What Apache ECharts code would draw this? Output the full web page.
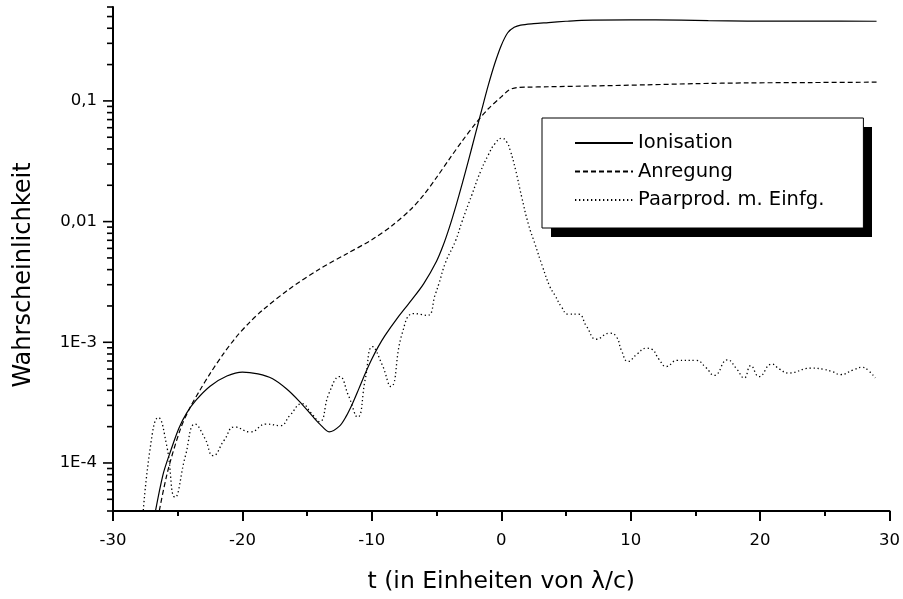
<!DOCTYPE html>
<html><head><meta charset="utf-8">
<script src="https://cdn.jsdelivr.net/npm/echarts@6/dist/echarts.min.js"></script>
<style>html,body{margin:0;padding:0;background:#fff}#c{width:903px;height:599px}</style>
</head><body><div id="c"></div>
<script>
// ---- data ----
var seriesNames = ['Ionisation', 'Anregung', 'Paarprod. m. Einfg.'];
var xTitle = 't (in Einheiten von \u03bb/c)';
var yTitle = 'Wahrscheinlichkeit';

var ionT = [-27.0, -26.15, -25.5, -24.9, -24.3, -23.6, -22.5, -21.2, -20.0, -18.8, -17.7, -16.6, -15.6, -14.57, -14.0, -13.3, -12.5, -12.0, -11.5, -11.0, -10.5, -10.0, -9.5, -9.0, -8.0, -7.0, -6.0, -5.0, -4.5, -4.0, -3.5, -3.0, -2.5, -2.0, -1.5, -1.0, -0.5, 0.0, 0.5, 1.0, 1.5, 2.5, 3.64, 5.0, 6.2, 10.0, 13.9, 16.0, 19.0, 24.0, 29.0];
var ionP = [2.75e-5, 7.9e-5, 1.3e-4, 1.95e-4, 2.6e-4, 3.3e-4, 4.33e-4, 5.25e-4, 5.67e-4, 5.47e-4, 5.01e-4, 4.12e-4, 3.24e-4, 2.43e-4, 2.09e-4, 1.81e-4, 2.02e-4, 2.42e-4, 3.1e-4, 4.13e-4, 5.54e-4, 7.26e-4, 9.2e-4, 1.13e-3, 1.6e-3, 2.19e-3, 3.05e-3, 4.7e-3, 6.3e-3, 9.0e-3, 0.0135, 0.0209, 0.0331, 0.0531, 0.0851, 0.135, 0.204, 0.288, 0.367, 0.407, 0.425, 0.437, 0.446, 0.457, 0.465, 0.469, 0.467, 0.463, 0.459, 0.458, 0.457];

var excT = [-27.0, -25.85, -24.8, -24.05, -23.3, -22.5, -21.5, -20.5, -19.4, -18.4, -16.4, -14.0, -12.0, -10.0, -8.4, -7.0, -6.0, -5.0, -4.0, -3.0, -2.0, -1.0, 0.0, 0.6, 1.2, 2.0, 3.64, 7.0, 11.3, 15.0, 19.0, 24.0, 29.0];
var excP = [1.9e-5, 7.9e-5, 1.9e-4, 2.88e-4, 3.98e-4, 5.5e-4, 7.94e-4, 1.1e-3, 1.48e-3, 1.86e-3, 2.75e-3, 4.07e-3, 5.37e-3, 7.08e-3, 9.33e-3, 0.0126, 0.0166, 0.0232, 0.0331, 0.0468, 0.0646, 0.0861, 0.108, 0.123, 0.129, 0.130, 0.131, 0.133, 0.136, 0.139, 0.141, 0.142, 0.143];

var pairT = [-27.75, -27.1, -26.5, -25.85, -25.2, -24.4, -23.65, -22.9, -22.26, -21.4, -20.6, -19.4, -18.15, -17.1, -16.3, -15.4, -14.7, -14.05, -13.3, -12.5, -11.8, -11.1, -10.5, -9.95, -9.2, -8.54, -7.65, -6.75, -5.72, -5.08, -4.82, -4.3, -3.54, -3.03, -2.26, -1.6, -0.98, -0.5, 0.05, 0.4, 0.69, 1.1, 1.58, 2.1, 2.61, 3.2, 3.75, 4.15, 4.66, 5.18, 5.95, 6.6, 7.35, 8.38, 8.9, 9.3, 9.8, 10.5, 11.2, 11.6, 12.2, 12.75, 13.6, 15.05, 15.8, 16.46, 17.48, 18.2, 18.77, 19.28, 19.92, 20.9, 21.5, 22.2, 23.9, 24.9, 25.6, 26.2, 27.2, 27.9, 28.4, 28.9];
var pairP = [3.0e-5, 1.39e-4, 2.38e-4, 1.39e-4, 5.2e-5, 1.15e-4, 2.1e-4, 1.6e-4, 1.15e-4, 1.55e-4, 1.99e-4, 1.81e-4, 2.1e-4, 2.04e-4, 2.5e-4, 3.1e-4, 2.6e-4, 2.2e-4, 3.8e-4, 5.2e-4, 3.6e-4, 2.4e-4, 5.0e-4, 9.2e-4, 6.5e-4, 4.3e-4, 1.19e-3, 1.73e-3, 1.67e-3, 2.53e-3, 3.05e-3, 4.6e-3, 6.9e-3, 1.0e-2, 1.68e-2, 2.6e-2, 3.6e-2, 4.4e-2, 4.9e-2, 4.6e-2, 3.9e-2, 2.7e-2, 1.6e-2, 9.5e-3, 6.5e-3, 4.2e-3, 2.9e-3, 2.45e-3, 1.96e-3, 1.71e-3, 1.71e-3, 1.35e-3, 1.06e-3, 1.19e-3, 1.11e-3, 8.5e-4, 6.93e-4, 8.0e-4, 8.93e-4, 8.8e-4, 7.2e-4, 6.3e-4, 7.08e-4, 7.08e-4, 6.2e-4, 5.32e-4, 7.16e-4, 6.0e-4, 5.06e-4, 6.4e-4, 5.2e-4, 6.6e-4, 6.0e-4, 5.56e-4, 6.1e-4, 5.98e-4, 5.7e-4, 5.4e-4, 5.9e-4, 6.2e-4, 5.8e-4, 5.06e-4];

// axis ticks
var xMin = -30, xMax = 30, xStep = 10;
var yMin = 4e-5, yMax = 0.6;
var yTickValues = [1e-4, 1e-3, 0.01, 0.1];
var yTickLabels = ['1E-4', '1E-3', '0,01', '0,1'];
var yMinorDecades = [1e-5, 1e-4, 1e-3, 1e-2, 1e-1];
var yMinorSteps = [2, 3, 4, 5, 6, 7, 8, 9];

// ---- build ----
function pairs(ts, ps) { return ts.map(function (t, i) { return [t, ps[i]]; }); }
var tickData = [];
yTickValues.forEach(function (v) { tickData.push([xMin, v, 1]); });
yMinorDecades.forEach(function (d) {
  yMinorSteps.forEach(function (s) {
    var v = d * s;
    if (v >= yMin * 0.999 && v <= yMax * 1.001) tickData.push([xMin, v, 0]);
  });
});

var FONT = 'DejaVu Sans';
var chart = echarts.init(document.getElementById('c'), null, { renderer: 'canvas' });
var lineBase = { type: 'line', showSymbol: false, symbol: 'none', smooth: 0.3, clip: true, silent: true, itemStyle: { color: '#000' } };

// legend frame geometry (layout only)
var LEG = { left: 542, top: 118, w: 321, h: 110, shadow: 9 };

chart.setOption({
  animation: false,
  backgroundColor: '#fff',
  grid: { left: 113, top: 7, width: 780, height: 510, containLabel: false },
  graphic: [{
    type: 'rect', z: 1, silent: true,
    shape: { x: LEG.left + LEG.shadow, y: LEG.top + LEG.shadow, width: LEG.w, height: LEG.h },
    style: { fill: '#000' }
  }],
  xAxis: {
    type: 'value', min: xMin, max: xMax, interval: xStep,
    name: xTitle, nameLocation: 'middle', nameGap: 59,
    nameTextStyle: { fontFamily: FONT, fontSize: 23.5, color: '#000' },
    axisLine: { onZero: false, lineStyle: { color: '#000', width: 2 } },
    axisTick: { show: true, inside: false, length: 10, lineStyle: { color: '#000', width: 2 } },
    minorTick: { show: true, splitNumber: 2, length: 5, lineStyle: { color: '#000', width: 2 } },
    axisLabel: { margin: 21, fontFamily: FONT, fontSize: 16.5, color: '#000' },
    splitLine: { show: false }, minorSplitLine: { show: false }
  },
  yAxis: {
    type: 'log', logBase: 10, min: yMin, max: yMax,
    name: yTitle, nameLocation: 'middle', nameGap: 77, nameRotate: 90,
    nameTextStyle: { fontFamily: FONT, fontSize: 24, color: '#000', padding: [0, 32, 0, 0] },
    axisLine: { show: true, onZero: false, lineStyle: { color: '#000', width: 2 } },
    axisTick: { show: false },
    axisLabel: {
      margin: 16, fontFamily: FONT, fontSize: 16.5, color: '#000',
      showMinLabel: false, showMaxLabel: false,
      formatter: function (v) {
        for (var i = 0; i < yTickValues.length; i++) {
          if (Math.abs(v / yTickValues[i] - 1) < 1e-6) return yTickLabels[i];
        }
        return '';
      }
    },
    splitLine: { show: false }
  },
  legend: {
    orient: 'vertical', left: LEG.left, top: LEG.top, z: 5,
    padding: [15, 39, 18, 32], itemGap: 8.5, itemWidth: 58, itemHeight: 14,
    backgroundColor: '#fff', borderColor: '#000', borderWidth: 1,
    textStyle: { fontFamily: FONT, fontSize: 19.5, color: '#000', lineHeight: 20 },
    itemStyle: { opacity: 0 },
    selectedMode: false,
    data: seriesNames
  },
  series: [
    Object.assign({}, lineBase, { name: seriesNames[0], data: pairs(ionT, ionP), lineStyle: { color: '#000', width: 1.2, type: 'solid' } }),
    Object.assign({}, lineBase, { name: seriesNames[1], data: pairs(excT, excP), lineStyle: { color: '#000', width: 1.2, type: [5, 3] } }),
    Object.assign({}, lineBase, { name: seriesNames[2], smooth: 0.5, data: pairs(pairT, pairP), lineStyle: { color: '#000', width: 1.3, type: [1.3, 2.7] } }),
    {
      type: 'custom', name: 'yticks', silent: true, clip: false, data: tickData,
      renderItem: function (params, api) {
        var p = api.coord([api.value(0), api.value(1)]);
        var len = api.value(2) ? 9 : 5;
        return { type: 'line', shape: { x1: p[0] - len - 1, y1: p[1], x2: p[0], y2: p[1] }, style: { stroke: '#000', lineWidth: 1.6 } };
      }
    }
  ]
});
</script></body></html>
